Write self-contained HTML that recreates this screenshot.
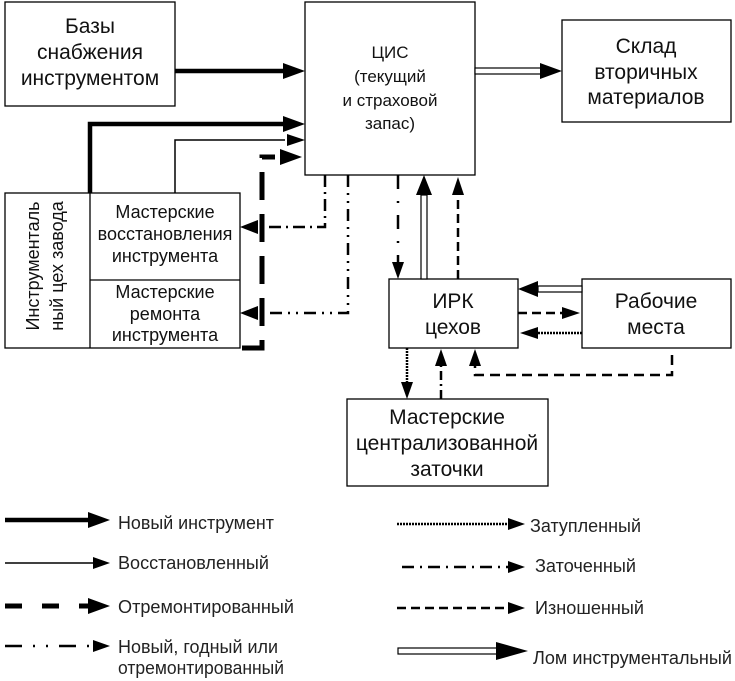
<!DOCTYPE html>
<html><head><meta charset="utf-8"><style>
html,body{margin:0;padding:0;background:#fff;}
svg{display:block;font-family:"Liberation Sans",sans-serif;}
</style></head><body>
<svg width="735" height="681" viewBox="0 0 735 681" xmlns="http://www.w3.org/2000/svg">
<g fill="none" stroke="#000" stroke-width="1.3">
<rect x="5" y="2" width="170" height="104"/>
<rect x="305" y="2" width="170" height="173"/>
<rect x="562" y="20" width="169" height="102"/>
<rect x="5" y="193" width="235" height="155"/>
<line x1="90" y1="193" x2="90" y2="348"/>
<line x1="90" y1="280" x2="240" y2="280"/>
<rect x="389" y="279" width="129" height="69"/>
<rect x="582" y="279" width="149" height="69"/>
<rect x="347" y="399" width="201" height="87"/>
</g>
<g font-size="21" text-anchor="middle" fill="#111">
<text x="90" y="33">Базы</text><text x="90" y="59">снабжения</text><text x="90" y="85">инструментом</text>
<text x="390" y="58" font-size="17">ЦИС</text><text x="390" y="82" font-size="17">(текущий</text><text x="390" y="106" font-size="17">и страховой</text><text x="390" y="129" font-size="17">запас)</text>
<text x="646" y="53">Склад</text><text x="646" y="79">вторичных</text><text x="646" y="104">материалов</text>
<text x="165" y="218" font-size="18">Мастерские</text><text x="165" y="240" font-size="18">восстановления</text><text x="165" y="262" font-size="18">инструмента</text>
<text x="165" y="298" font-size="18">Мастерские</text><text x="165" y="320" font-size="18">ремонта</text><text x="165" y="341" font-size="18">инструмента</text>
<text transform="translate(39,266) rotate(-90)" font-size="18">Инструменталь</text>
<text transform="translate(63,266) rotate(-90)" font-size="18">ный цех завода</text>
<text x="453" y="308">ИРК</text><text x="453" y="334">цехов</text>
<text x="656" y="308">Рабочие</text><text x="656" y="334">места</text>
<text x="447" y="424">Мастерские</text><text x="447" y="450">централизованной</text><text x="447" y="476">заточки</text>
</g>
<g fill="none" stroke="#000">
<line x1="175" y1="71" x2="285" y2="71" stroke-width="4.5"/>
<polyline points="90,193 90,124 285,124" stroke-width="4.5"/>
<polyline points="175,193 175,140 285,140" stroke-width="1.5"/>
<polyline points="242,348 262,348 262,157 275,157" stroke-width="5" stroke-dasharray="28,14"/>
<polyline points="325,175 325,227 258,227" stroke-width="2.5" stroke-dasharray="12,5,2,5"/>
<polyline points="348,175 348,313 258,313" stroke-width="2.5" stroke-dasharray="12,6,2,6,2,6"/>
<line x1="398" y1="175" x2="398" y2="262" stroke-width="2.5" stroke-dasharray="14,12,2,12"/>
<line x1="458" y1="279" x2="458" y2="195" stroke-width="2.5" stroke-dasharray="9,5"/>
<line x1="518" y1="313" x2="562" y2="313" stroke-width="2.5" stroke-dasharray="9,5"/>
<line x1="582" y1="333" x2="538" y2="333" stroke-width="2.5" stroke-dasharray="2,1"/>
<polyline points="672,355 672,375 475,375 475,365" stroke-width="2.5" stroke-dasharray="10,6"/>
<line x1="407" y1="348" x2="407" y2="382" stroke-width="2.5" stroke-dasharray="2,1"/>
<line x1="441" y1="399" x2="441" y2="365" stroke-width="2.5" stroke-dasharray="9,4,2,4"/>
</g>
<g stroke="#000" stroke-width="1.2" fill="#fff">
<rect x="475" y="68" width="67" height="6"/>
<rect x="421" y="195" width="6" height="84"/>
<rect x="538" y="286" width="44" height="6"/>
</g>
<g fill="#000">
<polygon points="283,63 305,71 283,79"/>
<polygon points="283,116 305,124 283,132"/>
<polygon points="287,134 305,140 287,146"/>
<polygon points="280,149 302,157 280,165"/>
<polygon points="258,220 240,227 258,234"/>
<polygon points="258,306 240,313 258,320"/>
<polygon points="392,262 398,279 404,262"/>
<polygon points="416,195 424,175 432,195"/>
<polygon points="452,195 458,177 464,195"/>
<polygon points="540,63 562,71 540,79"/>
<polygon points="538,281 518,289 538,297"/>
<polygon points="562,307 580,313 562,319"/>
<polygon points="538,327 520,333 538,339"/>
<polygon points="469,366 475,349 481,366"/>
<polygon points="401,382 407,399 413,382"/>
<polygon points="435,366 441,349 447,366"/>
</g>
<g fill="none" stroke="#000">
<line x1="5" y1="520" x2="90" y2="520" stroke-width="4.5"/>
<line x1="5" y1="563" x2="95" y2="563" stroke-width="1.5"/>
<line x1="5" y1="606" x2="90" y2="606" stroke-width="5" stroke-dasharray="17,20"/>
<line x1="5" y1="646" x2="95" y2="646" stroke-width="2.5" stroke-dasharray="17,11,2,11,2,11"/>
<line x1="397" y1="524" x2="508" y2="524" stroke-width="2.5" stroke-dasharray="2,1"/>
<line x1="402" y1="567" x2="508" y2="567" stroke-width="2.5" stroke-dasharray="12,6,2,6"/>
<line x1="397" y1="608" x2="508" y2="608" stroke-width="2.5" stroke-dasharray="9,5"/>
</g>
<rect x="398" y="648" width="100" height="6" fill="#fff" stroke="#000" stroke-width="1.2"/>
<g fill="#000">
<polygon points="88,512 110,520 88,528"/>
<polygon points="93,557 110,563 93,569"/>
<polygon points="88,598 110,606 88,614"/>
<polygon points="93,640 110,646 93,652"/>
<polygon points="508,518 525,524 508,530"/>
<polygon points="508,561 525,567 508,573"/>
<polygon points="508,602 525,608 508,614"/>
<polygon points="496,642 528,651 496,660"/>
</g>
<g font-size="18" fill="#222">
<text x="118" y="529" textLength="156" lengthAdjust="spacingAndGlyphs">Новый инструмент</text>
<text x="118" y="569" textLength="151" lengthAdjust="spacingAndGlyphs">Восстановленный</text>
<text x="118" y="613" textLength="176" lengthAdjust="spacingAndGlyphs">Отремонтированный</text>
<text x="118" y="653" textLength="160" lengthAdjust="spacingAndGlyphs">Новый, годный или</text>
<text x="118" y="674" textLength="166" lengthAdjust="spacingAndGlyphs">отремонтированный</text>
<text x="530" y="532" textLength="111" lengthAdjust="spacingAndGlyphs">Затупленный</text>
<text x="535" y="572" textLength="101" lengthAdjust="spacingAndGlyphs">Заточенный</text>
<text x="535" y="614" textLength="109" lengthAdjust="spacingAndGlyphs">Изношенный</text>
<text x="533" y="664" textLength="199" lengthAdjust="spacingAndGlyphs">Лом инструментальный</text>
</g>
</svg>
</body></html>
